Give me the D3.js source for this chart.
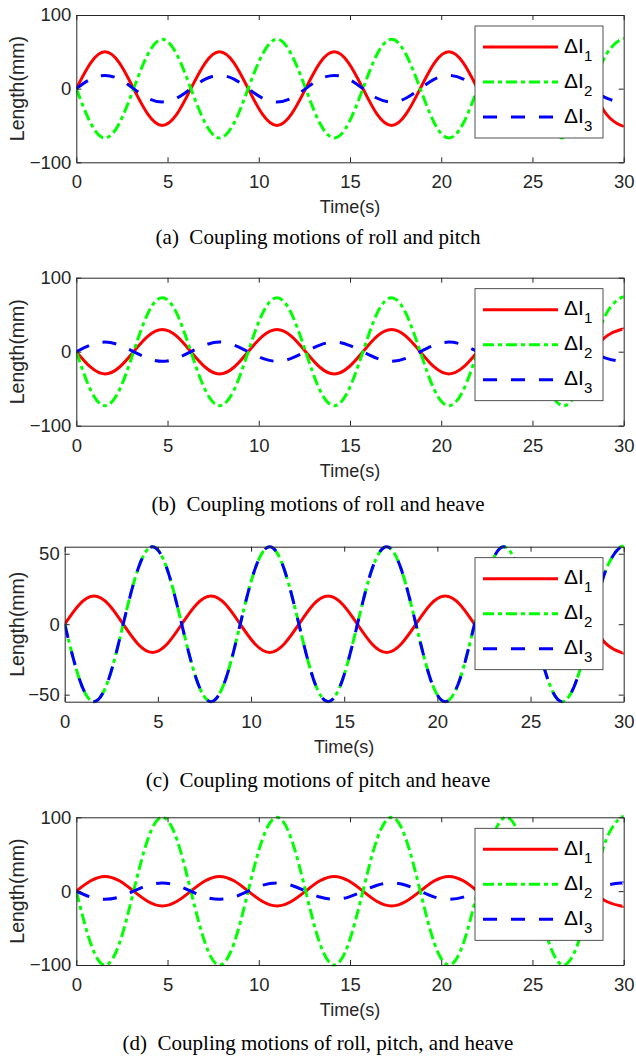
<!DOCTYPE html>
<html>
<head>
<meta charset="utf-8">
<script src="https://cdn.jsdelivr.net/npm/d3@7"></script>
<style>
  body { margin: 0; background: #fff; }
  svg { display: block; }
  .tick text { font-family: "Liberation Sans", Arial, sans-serif; font-size: 18.5px; fill: #262626; }
  .tick line, .domain { stroke: #262626; stroke-width: 1; }
  .lbl { font-family: "Liberation Sans", Arial, sans-serif; font-size: 18px; fill: #262626; }
  .ylbl { font-family: "Liberation Sans", Arial, sans-serif; font-size: 19.5px; fill: #262626; }
  .cap { font-family: "Liberation Serif", "Times New Roman", serif; font-size: 21px; fill: #000; white-space: pre; }
  .leg { font-family: "Liberation Sans", Arial, sans-serif; font-size: 21px; fill: #000; }
</style>
</head>
<body>
<svg width="636" height="1060"></svg>
<script>
// sample times (s): every eighth of a period
var times = [0, 0.79, 1.57, 2.36, 3.14, 3.93, 4.71, 5.50, 6.28, 7.07,
             7.85, 8.64, 9.42, 10.21, 11.00, 11.78, 12.57, 13.35, 14.14, 14.92,
             15.71, 16.49, 17.28, 18.06, 18.85, 19.63, 20.42, 21.21, 21.99, 22.78,
             23.56, 24.35, 25.13, 25.92, 26.70, 27.49, 28.27, 29.06, 29.85, 30];

// (a) roll and pitch
var aL1 = [0, 35, 50, 35, 0, -35, -50, -35, 0, 35, 50, 35, 0, -35, -50, -35, 0, 35, 50, 35,
           0, -35, -50, -35, 0, 35, 50, 35, 0, -35, -50, -35, 0, 35, 50, 35, 0, -35, -50, -49];
var aL2 = [0, -47, -67, -47, 0, 47, 67, 47, 0, -47, -67, -47, 0, 47, 67, 47, 0, -47, -67, -47,
           0, 47, 67, 47, 0, -47, -67, -47, 0, 47, 67, 47, 0, -47, -67, -47, 0, 47, 67, 66];
var aL3 = [0, 13, 18, 13, 0, -13, -18, -13, 0, 13, 18, 13, 0, -13, -18, -13, 0, 13, 18, 13,
           0, -13, -18, -13, 0, 13, 18, 13, 0, -13, -18, -13, 0, 13, 18, 13, 0, -13, -18, -18];
// (b) roll and heave
var bL1 = [0, -21, -30, -21, 0, 21, 30, 21, 0, -21, -30, -21, 0, 21, 30, 21, 0, -21, -30, -21,
           0, 21, 30, 21, 0, -21, -30, -21, 0, 21, 30, 21, 0, -21, -30, -21, 0, 21, 30, 30];
var bL2 = [0, -52, -73, -52, 0, 52, 73, 52, 0, -52, -73, -52, 0, 52, 73, 52, 0, -52, -73, -52,
           0, 52, 73, 52, 0, -52, -73, -52, 0, 52, 73, 52, 0, -52, -73, -52, 0, 52, 73, 72];
var bL3 = [0, 9, 13, 9, 0, -9, -13, -9, 0, 9, 13, 9, 0, -9, -13, -9, 0, 9, 13, 9,
           0, -9, -13, -9, 0, 9, 13, 9, 0, -9, -13, -9, 0, 9, 13, 9, 0, -9, -13, -13];
// (c) pitch and heave
var cL1 = [0, 14, 20, 14, 0, -14, -20, -14, 0, 14, 20, 14, 0, -14, -20, -14, 0, 14, 20, 14,
           0, -14, -20, -14, 0, 14, 20, 14, 0, -14, -20, -14, 0, 14, 20, 14, 0, -14, -20, -20];
var cL2 = [0, -39, -55, -39, 0, 39, 55, 39, 0, -39, -55, -39, 0, 39, 55, 39, 0, -39, -55, -39,
           0, 39, 55, 39, 0, -39, -55, -39, 0, 39, 55, 39, 0, -39, -55, -39, 0, 39, 55, 54];
var cL3 = [0, -39, -55, -39, 0, 39, 55, 39, 0, -39, -55, -39, 0, 39, 55, 39, 0, -39, -55, -39,
           0, 39, 55, 39, 0, -39, -55, -39, 0, 39, 55, 39, 0, -39, -55, -39, 0, 39, 55, 54];
// (d) roll, pitch and heave
var dL1 = [0, 14, 20, 14, 0, -14, -20, -14, 0, 14, 20, 14, 0, -14, -20, -14, 0, 14, 20, 14,
           0, -14, -20, -14, 0, 14, 20, 14, 0, -14, -20, -14, 0, 14, 20, 14, 0, -14, -20, -20];
var dL2 = [0, -71, -100, -71, 0, 71, 100, 71, 0, -71, -100, -71, 0, 71, 100, 71, 0, -71, -100, -71,
           0, 71, 100, 71, 0, -71, -100, -71, 0, 71, 100, 71, 0, -71, -100, -71, 0, 71, 100, 99];
var dL3 = [0, -8, -11, -8, 0, 8, 11, 8, 0, -8, -11, -8, 0, 8, 11, 8, 0, -8, -11, -8,
           0, 8, 11, 8, 0, -8, -11, -8, 0, 8, 11, 8, 0, -8, -11, -8, 0, 8, 11, 11];

var xTicks = [0, 5, 10, 15, 20, 25, 30];
var yTicks100 = [-100, 0, 100];
var yTicks50 = [-50, 0, 50];
var seriesNames = ["1", "2", "3"];

var styles = [
  {color: "#ff0000", dash: null},
  {color: "#00ff00", dash: "11,4,4,4"},
  {color: "#0000ff", dash: "14,14"}
];

var panels = [
  {top: 15, bottom: 162.3, left: 76.3, ylim: [-100, 100], yticks: yTicks100, data: [aL1, aL2, aL3],
   capY: 244, caption: "(a)  Coupling motions of roll and pitch"},
  {top: 277.7, bottom: 425.7, left: 76.3, ylim: [-100, 100], yticks: yTicks100, data: [bL1, bL2, bL3],
   capY: 511, caption: "(b)  Coupling motions of roll and heave"},
  {top: 546.7, bottom: 701.7, left: 64.7, ylim: [-55, 55], yticks: yTicks50, data: [cL1, cL2, cL3],
   capY: 787, caption: "(c)  Coupling motions of pitch and heave"},
  {top: 817.3, bottom: 965, left: 76.3, ylim: [-100, 100], yticks: yTicks100, data: [dL1, dL2, dL3],
   capY: 1050, caption: "(d)  Coupling motions of roll, pitch, and heave"}
];

var right = 623.7;
var svg = d3.select("svg");

panels.forEach(function(p, pi) {
  var x = d3.scaleLinear().domain([0, 30]).range([p.left, right]);
  var y = d3.scaleLinear().domain(p.ylim).range([p.bottom, p.top]);
  var g = svg.append("g");

  svg.append("clipPath").attr("id", "clip" + pi)
    .append("rect").attr("x", p.left).attr("y", p.top - 2)
      .attr("width", right - p.left).attr("height", p.bottom - p.top + 4);

  var line = d3.line()
      .x(function(d, i) { return x(times[i]); })
      .y(function(d) { return y(d); })
      .curve(d3.curveNatural);

  var lines = g.append("g").attr("clip-path", "url(#clip" + pi + ")");
  p.data.forEach(function(vals, k) {
    lines.append("path")
        .attr("d", line(vals))
        .attr("fill", "none")
        .attr("stroke", styles[k].color)
        .attr("stroke-width", 3)
        .attr("stroke-dasharray", styles[k].dash);
  });

  // axes box, ticks pointing inward
  g.append("g").attr("transform", "translate(0," + p.bottom + ")")
      .call(d3.axisBottom(x).tickValues(xTicks).tickSizeInner(-5).tickSizeOuter(0).tickPadding(13));
  g.append("g").attr("transform", "translate(0," + p.top + ")")
      .call(d3.axisTop(x).tickValues(xTicks).tickSizeInner(-5).tickSizeOuter(0).tickFormat(""));
  g.append("g").attr("transform", "translate(" + p.left + ",0)")
      .call(d3.axisLeft(y).tickValues(p.yticks).tickSizeInner(-5).tickSizeOuter(0).tickPadding(5));
  g.append("g").attr("transform", "translate(" + right + ",0)")
      .call(d3.axisRight(y).tickValues(p.yticks).tickSizeInner(-5).tickSizeOuter(0).tickFormat(""));
  g.selectAll(".tick text").attr("font-family", null).attr("font-size", null);

  g.append("text").attr("class", "lbl")
      .attr("x", (p.left + right) / 2).attr("y", p.bottom + 51)
      .attr("text-anchor", "middle").text("Time(s)");
  g.append("text").attr("class", "ylbl")
      .attr("transform", "translate(24," + (p.top + p.bottom) / 2 + ") rotate(-90)")
      .attr("text-anchor", "middle").text("Length(mm)");

  // legend
  var lx = 475, ly = p.top + 11;
  var leg = g.append("g");
  leg.append("rect").attr("x", lx).attr("y", ly).attr("width", 128).attr("height", 112)
      .attr("fill", "#fff").attr("stroke", "#262626").attr("stroke-width", 0.8);
  seriesNames.forEach(function(n, k) {
    var ry = ly + 21 + k * 35;
    leg.append("line").attr("x1", 483).attr("x2", 558).attr("y1", ry).attr("y2", ry)
        .attr("stroke", styles[k].color).attr("stroke-width", 3)
        .attr("stroke-dasharray", styles[k].dash);
    var t = leg.append("text").attr("class", "leg").attr("x", 564).attr("y", ry + 5.5);
    t.append("tspan").text("\u0394I");
    t.append("tspan").attr("dy", 8).attr("font-size", "15px").text(n);
  });

  svg.append("text").attr("class", "cap")
      .attr("x", 318).attr("y", p.capY)
      .attr("text-anchor", "middle").text(p.caption);
});
</script>
</body>
</html>
